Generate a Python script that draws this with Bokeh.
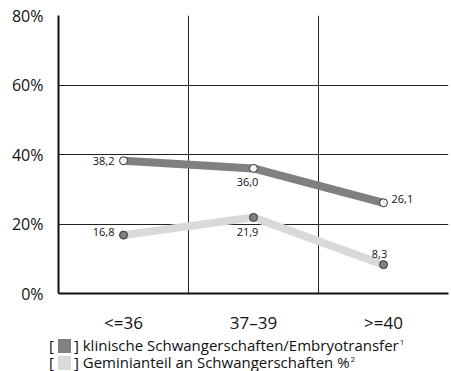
from bokeh.plotting import figure
from bokeh.layouts import column
from bokeh.models import ColumnDataSource, FixedTicker, Label, Range1d, Div
from bokeh.embed import file_html
from bokeh.resources import INLINE

# Altersgruppen und Raten (%)
categories = ["<=36", "37\u201339", ">=40"]
schwangerschaften = [38.2, 36.0, 26.1]   # klinische Schwangerschaften/Embryotransfer
gemini = [16.8, 21.9, 8.3]               # Geminianteil an Schwangerschaften
y_ticks = [0, 20, 40, 60, 80]
legend_texts = ["klinische Schwangerschaften/Embryotransfer", "Geminianteil an Schwangerschaften %"]
legend_notes = ["1", "2"]

FONT = "Open Sans"
DARK = "#808080"
LIGHT = "#d9d9d9"
INK = "#111111"

xs = [i + 0.5 for i in range(len(categories))]

def fmt(v):
    return f"{v:.1f}".replace(".", ",")

p = figure(width=451, height=337, output_backend="svg", toolbar_location=None,
           x_range=Range1d(0, 3), y_range=Range1d(0, 80),
           min_border_left=58, min_border_right=3, min_border_top=15,
           min_border_bottom=44)
p.outline_line_color = None
p.background_fill_color = "white"

# axes
p.xaxis.ticker = FixedTicker(ticks=xs)
p.xaxis.major_label_overrides = {x: c for x, c in zip(xs, categories)}
p.xaxis.major_tick_line_color = None
p.xaxis.minor_tick_line_color = None
p.xaxis.axis_line_width = 2
p.xaxis.axis_line_color = INK
p.xaxis.major_label_text_font = FONT
p.xaxis.major_label_text_font_size = "17px"
p.xaxis.major_label_text_color = INK
p.xaxis.major_label_standoff = 11

p.yaxis.ticker = FixedTicker(ticks=y_ticks)
p.yaxis.major_label_overrides = {t: f"{t}%" for t in y_ticks}
p.yaxis.major_tick_line_color = None
p.yaxis.minor_tick_line_color = None
p.yaxis.axis_line_width = 2
p.yaxis.axis_line_color = INK
p.yaxis.major_label_text_font = FONT
p.yaxis.major_label_text_font_size = "16px"
p.yaxis.major_label_text_color = INK
p.yaxis.major_label_standoff = 9

p.xgrid.ticker = FixedTicker(ticks=[1, 2])
p.xgrid.grid_line_color = "#222222"
p.xgrid.grid_line_width = 1
p.ygrid.ticker = FixedTicker(ticks=[20, 40, 60, 80])
p.ygrid.grid_line_color = "#222222"
p.ygrid.grid_line_width = 1

# series
src1 = ColumnDataSource(dict(x=xs, y=schwangerschaften))
src2 = ColumnDataSource(dict(x=xs, y=gemini))

p.line("x", "y", source=src1, line_color=DARK, line_width=8)
p.line("x", "y", source=src2, line_color=LIGHT, line_width=8)
p.scatter("x", "y", source=src1, size=8, fill_color="#f2f2f2", line_color="#333333", line_width=1)
p.scatter("x", "y", source=src2, size=8, fill_color=DARK, line_color="#333333", line_width=1)

# value labels: per-point offsets (px) and alignment
off1 = [(-9, 0, "right"), (-6, -14, "center"), (8, 4, "left")]
off2 = [(-9, 3, "right"), (-6, -15, "center"), (-4, 11, "center")]
for vals, offs in ((schwangerschaften, off1), (gemini, off2)):
    for x, v, (dx, dy, al) in zip(xs, vals, offs):
        p.add_layout(Label(x=x, y=v, x_offset=dx, y_offset=dy, text=fmt(v),
                           text_font=FONT, text_font_size="11px", text_color=INK,
                           text_align=al, text_baseline="middle"))

# legend block below the chart
rows = []
for txt, note, col in zip(legend_texts, legend_notes, [DARK, LIGHT]):
    rows.append(
        f'<div style="height:17px;line-height:17px;white-space:nowrap">'
        f'[<span style="display:inline-block;width:13px;height:14px;background:{col};'
        f'margin:0 3px 0 4px;vertical-align:-2px"></span>] {txt}'
        f'<span style="font-size:8px;position:relative;top:-6px;margin-left:1px">{note}</span></div>'
    )
legend_html = (f'<div style="font-family:\'{FONT}\';font-size:15px;color:{INK};'
               f'padding-left:49px;margin:0">' + "".join(rows) + "</div>")
leg = Div(text=legend_html, width=451, height=34, margin=(0, 0, 0, 0))

layout = column(p, leg, spacing=0)
open("out.html", "w").write(file_html(layout, INLINE))
